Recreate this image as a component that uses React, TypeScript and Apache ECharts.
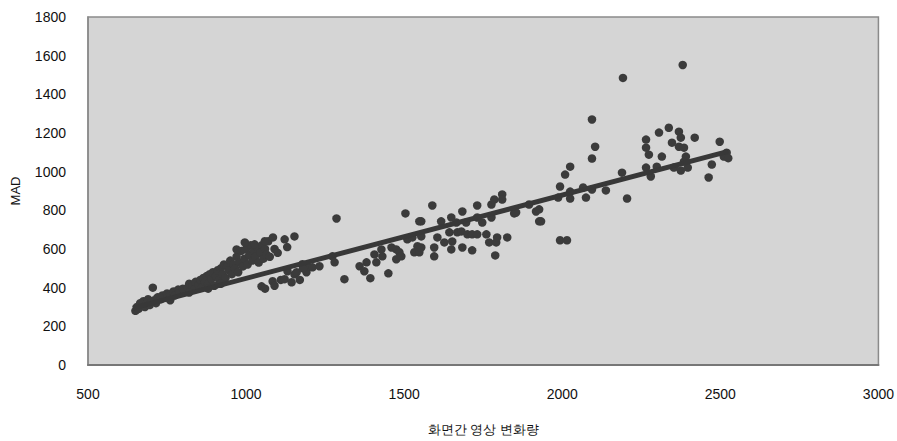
import React, { useEffect, useRef } from "react";
import * as echarts from "echarts";

const xTicks = [500, 1000, 1500, 2000, 2500, 3000];
const yTicks = [0, 200, 400, 600, 800, 1000, 1200, 1400, 1600, 1800];

const xTitle = "화면간 영상 변화량";
const yTitle = "MAD";

// scatter points: [화면간 영상 변화량, MAD]
const lowCluster: number[][] = [
  [650, 280], [655, 300], [660, 290], [665, 320], [670, 305], [675, 330], [680, 300], [685, 320],
  [690, 340], [695, 310], [700, 330], [705, 400], [710, 335], [715, 320], [720, 350], [730, 340],
  [735, 360], [745, 350], [750, 370], [760, 365], [770, 380], [775, 360], [785, 390], [790, 375],
  [800, 395], [805, 380], [815, 400], [820, 420], [830, 410], [835, 390], [840, 430], [850, 415],
  [855, 440], [860, 400], [865, 450], [870, 430], [875, 460], [880, 420], [885, 470], [890, 445],
  [895, 480], [900, 410], [905, 460], [910, 490], [915, 440], [920, 500], [925, 470], [930, 520],
  [935, 450], [940, 510], [945, 490], [950, 540], [955, 470], [960, 520], [965, 500], [970, 560],
  [975, 480], [980, 530], [985, 590], [990, 510], [995, 550], [1000, 600], [1005, 520], [1010, 570],
  [1015, 620], [1020, 540], [1025, 590], [1030, 560], [1035, 610], [1040, 530], [1045, 580],
  [1050, 620], [1055, 550], [1060, 600], [1065, 570], [1070, 640], [1075, 560], [1085, 660],
  [1090, 600], [1100, 580], [1122, 650], [1130, 610], [1153, 665], [996, 634], [1027, 624],
  [1059, 640], [970, 598], [880, 395], [920, 420], [760, 335], [820, 375],
];

const lowerBand: number[][] = [
  [1049, 407], [1060, 395], [1084, 433], [1090, 410], [1110, 440], [1122, 444], [1144, 428],
  [1153, 469], [1131, 485], [1160, 480], [1170, 440], [1178, 521], [1191, 480], [1194, 511],
  [1180, 500], [1210, 505], [1232, 511], [1273, 562], [1280, 531], [1286, 758], [1311, 444],
  [1359, 511], [1374, 485], [1381, 531], [1393, 449], [1406, 572], [1412, 531], [1428, 598],
  [1431, 562], [1450, 474], [1460, 608], [1475, 598], [1475, 547], [1485, 583], [1491, 562],
  [1504, 784], [1510, 650], [1526, 660], [1532, 583], [1542, 614], [1548, 583], [1548, 743],
];

const midCluster: number[][] = [
  [1554, 743], [1554, 665], [1554, 608], [1589, 825], [1595, 608], [1595, 562], [1605, 660],
  [1617, 743], [1627, 634], [1643, 686], [1649, 763], [1649, 598], [1652, 639], [1665, 737],
  [1668, 686], [1681, 691], [1684, 794], [1684, 608], [1696, 737], [1700, 676], [1715, 676],
  [1715, 593], [1731, 825], [1731, 763], [1731, 676], [1747, 737], [1760, 676], [1769, 634],
  [1776, 830], [1776, 763], [1785, 856], [1788, 567], [1791, 634], [1794, 660], [1810, 882],
  [1810, 856], [1826, 660], [1848, 784], [1854, 789], [1895, 830], [1917, 794], [1927, 743],
  [1927, 805], [1933, 743],
];

const highCluster: number[][] = [
  [1987, 866], [1993, 923], [1993, 645], [2009, 985], [2015, 645], [2025, 1026], [2025, 897],
  [2025, 861], [2066, 918], [2075, 866], [2094, 1068], [2094, 908], [2094, 1270], [2104, 1129],
  [2138, 903], [2189, 995], [2192, 1485], [2205, 861], [2265, 1166], [2265, 1124], [2265, 1021],
  [2274, 1088], [2280, 975], [2299, 1026], [2306, 1202], [2315, 1078], [2337, 1227],
  [2347, 1150], [2353, 1021], [2369, 1207], [2369, 1129], [2375, 1176], [2375, 1006],
  [2381, 1552], [2385, 1124], [2385, 1052], [2391, 1078], [2397, 1021], [2419, 1176],
  [2463, 970], [2473, 1037], [2498, 1155], [2511, 1078], [2520, 1098], [2525, 1070],
];

const fitLine: number[][] = [
  [642, 294],
  [2525, 1105],
];

export default function App() {
  const ref = useRef<HTMLDivElement>(null);
  useEffect(() => {
    if (!ref.current) return;
    document.body.style.margin = "0";
    document.body.style.overflow = "hidden";
    const chart = echarts.init(ref.current, undefined, { renderer: "svg" });
    const font = "'Liberation Sans', Arial, sans-serif";
    const points = [...lowCluster, ...lowerBand, ...midCluster, ...highCluster];
    chart.setOption({
      animation: false,
      backgroundColor: "#ffffff",
      grid: {
        left: 88,
        right: 17,
        top: 17,
        bottom: 75,
        show: true,
        backgroundColor: "#d5d5d5",
        borderColor: "#8a8a8a",
        borderWidth: 1.5,
      },
      xAxis: {
        type: "value",
        min: xTicks[0],
        max: xTicks[xTicks.length - 1],
        interval: 500,
        name: xTitle,
        nameLocation: "middle",
        nameGap: 58,
        nameTextStyle: { fontFamily: font, fontSize: 13, color: "#111" },
        axisLine: { show: true, lineStyle: { color: "#777", width: 2 } },
        axisTick: { show: false },
        axisLabel: {
          fontFamily: font,
          fontSize: 14,
          color: "#111",
          margin: 22,
          formatter: (v: number) => String(v),
        },
        splitLine: { show: false },
      },
      yAxis: {
        type: "value",
        min: yTicks[0],
        max: yTicks[yTicks.length - 1],
        interval: 200,
        name: yTitle,
        nameLocation: "middle",
        nameGap: 66,
        nameRotate: 90,
        nameTextStyle: { fontFamily: font, fontSize: 13, color: "#111" },
        axisLine: { show: true, lineStyle: { color: "#8a8a8a", width: 1.5 } },
        axisTick: { show: false },
        axisLabel: {
          fontFamily: font,
          fontSize: 14,
          color: "#111",
          margin: 22,
          formatter: (v: number) => String(v),
        },
        splitLine: { show: false },
      },
      series: [
        {
          type: "scatter",
          data: points,
          symbol: "circle",
          symbolSize: 8.5,
          itemStyle: { color: "#3b3b3b", opacity: 1 },
          z: 2,
        },
        {
          type: "line",
          data: fitLine,
          symbol: "none",
          lineStyle: { color: "#383838", width: 5 },
          z: 3,
        },
      ],
    });
    return () => chart.dispose();
  }, []);
  return <div ref={ref} style={{ width: 897, height: 441 }} />;
}
